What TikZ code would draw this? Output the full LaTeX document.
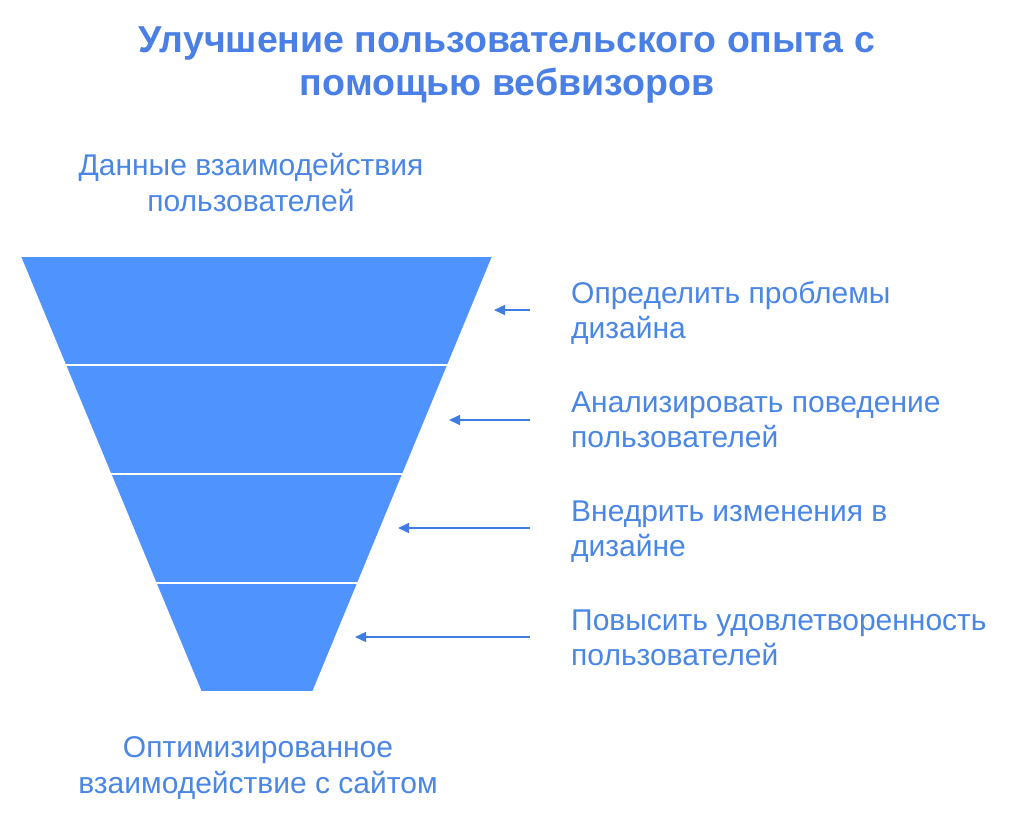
\documentclass[tikz,border=0pt]{standalone}
\usepackage{fontspec}
\setmainfont{Liberation Sans}
\usetikzlibrary{arrows.meta}
\definecolor{funnel}{HTML}{4F93FF}
\definecolor{txt}{HTML}{4A86E4}
\definecolor{ttl}{HTML}{4A80E6}
\definecolor{arr}{HTML}{3F7DE2}
\tikzset{
  seg/.style={fill=funnel, draw=white, line width=1.6pt, line join=miter},
  lbl/.style={text=txt, font=\fontsize{30}{35}\selectfont, inner sep=0pt, align=left, anchor=base west},
  clbl/.style={text=txt, font=\fontsize{30}{36}\selectfont, inner sep=0pt, align=center, anchor=base},
  ttlstyle/.style={text=ttl, font=\bfseries\fontsize{37.5}{43}\selectfont, inner sep=0pt, align=center, anchor=base},
  pointer/.style={draw=arr, line width=1.4pt, -{Triangle[length=11pt,width=10pt]}},
}
\begin{document}
\begin{tikzpicture}[x=1pt,y=-1pt]
\useasboundingbox (0,0) rectangle (1024,822);
% title (base anchor = last line baseline)
\node[ttlstyle] (title) at (507,95) {Улучшение пользовательского опыта с\\помощью вебвизоров};
% top/bottom labels
\node[clbl] (top) at (251,211) {Данные взаимодействия\\пользователей};
\node[clbl] (bottom) at (258,793) {Оптимизированное\\взаимодействие с сайтом};
% funnel
\path[seg] (20,256) -- (493,256) -- (448,365) -- (65.2,365) -- cycle;
\path[seg] (65.2,365) -- (448,365) -- (403,474) -- (110.5,474) -- cycle;
\path[seg] (110.5,474) -- (403,474) -- (358,583) -- (155.7,583) -- cycle;
\path[seg] (155.7,583) -- (358,583) -- (313,692) -- (201,692) -- cycle;
% labels right
\node[lbl] (l1) at (571,338) {Определить проблемы\\дизайна};
\node[lbl] (l2) at (571,447) {Анализировать поведение\\пользователей};
\node[lbl] (l3) at (571,556) {Внедрить изменения в\\дизайне};
\node[lbl] (l4) at (571,665) {Повысить удовлетворенность\\пользователей};
% arrows
\coordinate (s1) at (530,310); \coordinate (t1) at (494,310);
\coordinate (s2) at (530,420); \coordinate (t2) at (449,420);
\coordinate (s3) at (530,528); \coordinate (t3) at (398,528);
\coordinate (s4) at (530,637); \coordinate (t4) at (355,637);
\draw[pointer] (s1) -- (t1);
\draw[pointer] (s2) -- (t2);
\draw[pointer] (s3) -- (t3);
\draw[pointer] (s4) -- (t4);
\end{tikzpicture}
\end{document}
